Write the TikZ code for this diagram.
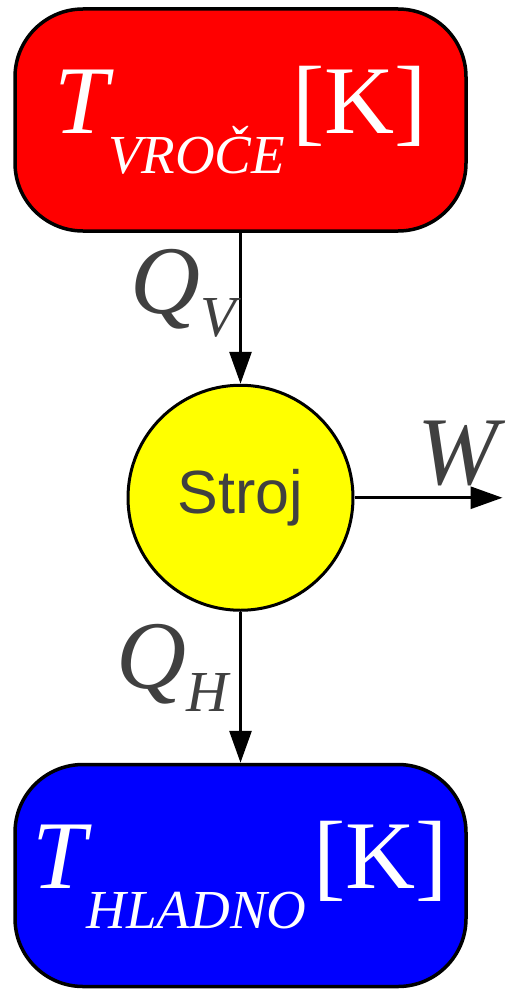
\documentclass[tikz,border=0pt]{standalone}
\usepackage{fontspec}
\setmainfont{Liberation Serif}
\newfontfamily\enginefont{Liberation Sans}
\usepackage{xcolor}
\usetikzlibrary{arrows.meta,positioning}
\definecolor{labelgray}{HTML}{404040}
\definecolor{enginefill}{HTML}{FFFF00}
\newcommand{\tempsub}[1]{{\fontsize{97}{97}\selectfont\itshape T}\raisebox{-40pt}{\fontsize{55}{55}\selectfont\itshape #1}\hspace{7pt}{\fontsize{97}{97}\selectfont[K]}}
\newcommand{\heatsub}[2]{{\fontsize{97}{97}\selectfont\itshape #1}\raisebox{-23pt}{\fontsize{58}{58}\selectfont\itshape #2}}

\begin{document}
\begin{tikzpicture}[
x=1pt, y=1pt,
node distance=151pt,
reservoir/.style={draw, line width=3.5pt, rounded corners=68pt, minimum width=451pt, minimum height=222pt, inner sep=0pt, text=white},
engine/.style={draw, circle, line width=3pt, fill=enginefill, minimum size=225pt, inner sep=0pt, text=labelgray, font=\enginefont\fontsize{61}{61}\selectfont},
flow/.style={line width=3pt, -{Triangle[length=32pt,width=22pt]}},
qty/.style={text=labelgray, inner sep=3pt}
]
\useasboundingbox (0,0) rectangle (506,-990);
\node[reservoir, fill=red] (hot) at (240.5,-120) {\tempsub{VROČE}};
\node[engine, below=of hot] (engine) {Stroj};
\node[reservoir, fill=blue, below=of engine] (cold) {\tempsub{HLADNO}};
\coordinate[right=148pt of engine] (wend);
% heat flows and work
\draw[flow] (hot) -- node[qty, left, pos=0.4] (qv) {\heatsub{Q}{V}} (engine);
\draw[flow] (engine) -- node[qty, left=8pt, pos=0.37] (qh) {\heatsub{Q}{H}} (cold);
\draw[flow] (engine) -- node[qty, above=7pt, pos=0.7] (w) {\fontsize{97}{97}\selectfont\itshape W} (wend);
\end{tikzpicture}
\end{document}
